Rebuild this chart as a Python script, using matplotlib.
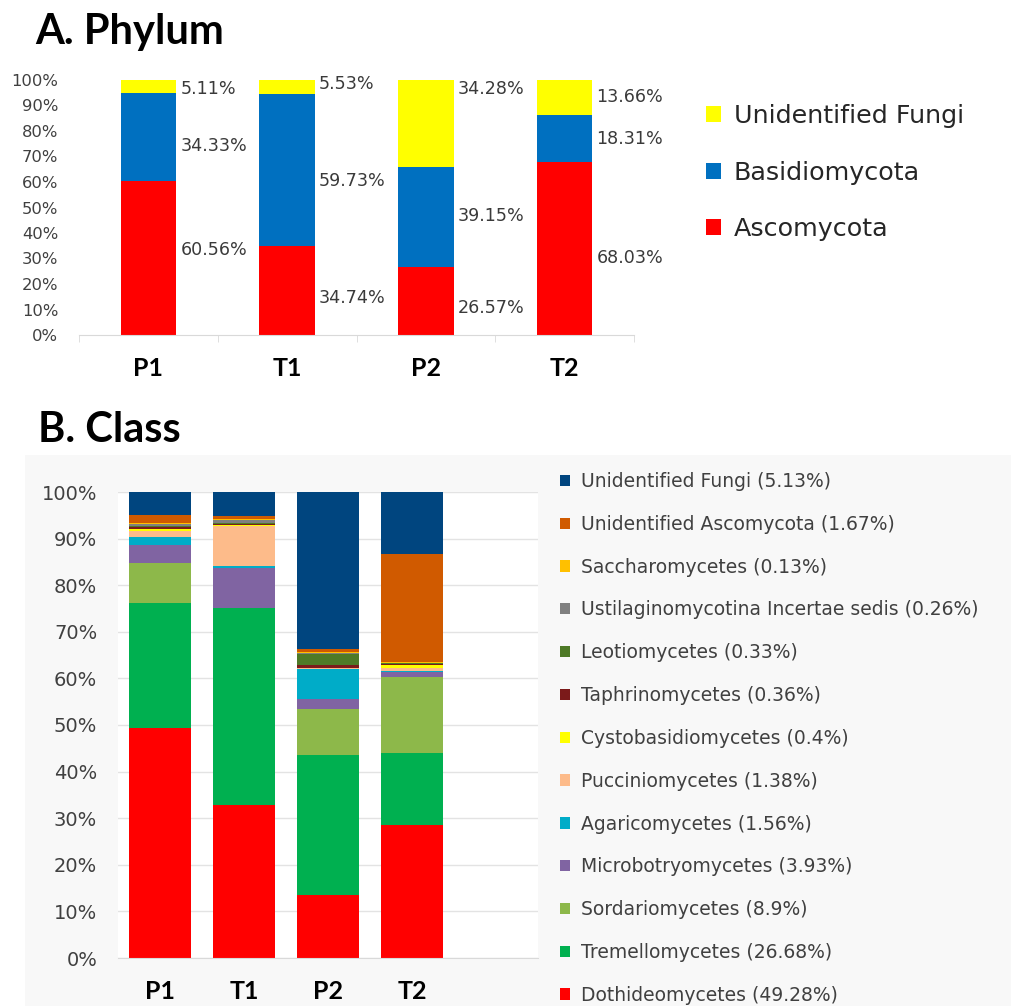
import matplotlib
matplotlib.use("Agg")
import matplotlib.pyplot as plt
import numpy as np
from matplotlib.patches import Rectangle, Patch

# ---------------- data ----------------
samples = ["P1", "T1", "P2", "T2"]

phylum_names = ["Ascomycota", "Basidiomycota", "Unidentified Fungi"]
asco = [60.56, 34.74, 26.57, 68.03]
basidio = [34.33, 59.73, 39.15, 18.31]
unid_phylum = [5.11, 5.53, 34.28, 13.66]
phylum_colors = ["#FF0000", "#0070C0", "#FFFF00"]

# label heights (in % of axis) for the phylum value labels
asco_label_y = [33.3, 14.5, 10.6, 30.2]
basidio_label_y = [74.1, 60.4, 46.7, 76.9]
unid_label_y = [96.5, 98.4, 96.5, 93.3]

class_names = [
    "Dothideomycetes (49.28%)",
    "Tremellomycetes (26.68%)",
    "Sordariomycetes (8.9%)",
    "Microbotryomycetes (3.93%)",
    "Agaricomycetes (1.56%)",
    "Pucciniomycetes (1.38%)",
    "Cystobasidiomycetes (0.4%)",
    "Taphrinomycetes (0.36%)",
    "Leotiomycetes (0.33%)",
    "Ustilaginomycotina Incertae sedis (0.26%)",
    "Saccharomycetes (0.13%)",
    "Unidentified Ascomycota (1.67%)",
    "Unidentified Fungi (5.13%)",
]
dothideo = [49.3, 32.8, 13.5, 28.5]
tremello = [26.8, 42.3, 30.0, 15.5]
sordario = [8.7, 0.1, 10.0, 16.4]
microbotryo = [3.9, 8.5, 2.1, 1.0]
agarico = [1.6, 0.4, 6.5, 0.1]
puccinio = [1.4, 8.5, 0.1, 0.8]
cystobasidio = [0.4, 0.3, 0.1, 0.6]
taphrino = [0.3, 0.2, 0.5, 0.1]
leotio = [0.4, 0.2, 2.5, 0.3]
ustilago = [0.3, 0.6, 0.2, 0.1]
saccharo = [0.2, 0.3, 0.1, 0.1]
unid_asco = [1.7, 0.6, 0.8, 23.3]
unid_fungi = [5.0, 5.2, 33.6, 13.2]
class_values = [dothideo, tremello, sordario, microbotryo, agarico, puccinio,
                cystobasidio, taphrino, leotio, ustilago, saccharo, unid_asco, unid_fungi]
class_colors = ["#FF0000", "#00B050", "#8DB84A", "#8064A2", "#00ACC8", "#FDBB8A",
                "#FFFF00", "#7B1A1A", "#4E7A27", "#808080", "#FFC000", "#D05A00", "#00457F"]

ticks_pct = list(range(0, 101, 10))

# ---------------- figure ----------------
W, H = 1012, 1006
fig = plt.figure(figsize=(W / 100, H / 100), dpi=100)
fig.patch.set_facecolor("white")

def px_axes(x0, y_top, x1, y_bot):
    return fig.add_axes([x0 / W, 1 - y_bot / H, (x1 - x0) / W, (y_bot - y_top) / H])

DV = ["DejaVu Sans"]
TITLE = ["Lato", "DejaVu Sans"]

# background of panel B
fig.patches.append(Rectangle((25 / W, 0), 1 - 25 / W, 1 - 455 / H,
                             transform=fig.transFigure, facecolor="#F8F8F8",
                             edgecolor="none", zorder=-10))

# ---------------- panel A ----------------
axA = px_axes(79, 80, 634, 335)
x = np.arange(len(samples))
bw = 0.4
bottoms = np.zeros(len(samples))
for vals, col, nm in zip([asco, basidio, unid_phylum], phylum_colors, phylum_names):
    axA.bar(x, vals, bw, bottom=bottoms, color=col, label=nm, zorder=2)
    bottoms += np.array(vals)

for vals, ys in zip([asco, basidio, unid_phylum], [asco_label_y, basidio_label_y, unid_label_y]):
    for i, (v, yy) in enumerate(zip(vals, ys)):
        axA.annotate(f"{v:.2f}%", xy=(x[i] + bw / 2, yy), xytext=(3, 0),
                     textcoords="offset points", ha="left", va="center",
                     fontsize=12.6, color="#3A3A3A", family=DV)

axA.set_xlim(-0.5, len(samples) - 0.5)
axA.set_ylim(0, 100)
axA.set_yticks(ticks_pct)
axA.set_yticklabels([f"{t}%" for t in ticks_pct], fontsize=11.8, color="#404040",
                    family=DV)
axA.tick_params(axis="y", length=0, pad=15)
axA.set_xticks(x)
axA.set_xticklabels(samples, fontsize=18, fontweight="bold", family=TITLE)
axA.tick_params(axis="x", length=0, pad=16)
axA.set_xticks(np.arange(-0.5, len(samples)), minor=True)
axA.tick_params(axis="x", which="minor", length=5, color="#D9D9D9", direction="out")
for s in ["top", "right", "left"]:
    axA.spines[s].set_visible(False)
axA.spines["bottom"].set_color("#D9D9D9")
axA.set_facecolor("none")

hA = [Patch(facecolor=c, edgecolor="none") for c in phylum_colors]
legA = fig.legend(hA[::-1], phylum_names[::-1], loc="upper left",
                  bbox_to_anchor=(706 / W, 1 - 104 / H), frameon=False,
                  prop={"family": DV, "size": 18.3}, handlelength=0.6,
                  handleheight=0.6, handletextpad=0.5, labelspacing=1.28,
                  borderpad=0, borderaxespad=0)
for t in legA.get_texts():
    t.set_color("#262626")

fig.text(35 / W, 1 - 32 / H, "A. Phylum", fontsize=30, fontweight="bold",
         family=TITLE, va="center", ha="left")

# ---------------- panel B ----------------
axB = px_axes(118, 492, 538, 958)
xb = np.arange(len(samples))
bwb = 0.74
bottoms = np.zeros(len(samples))
for vals, col, nm in zip(class_values, class_colors, class_names):
    axB.bar(xb, vals, bwb, bottom=bottoms, color=col, label=nm, zorder=2)
    bottoms += np.array(vals)

axB.set_xlim(-0.5, len(samples) + 0.5)
axB.set_ylim(0, 100)
axB.set_yticks(ticks_pct)
axB.set_yticklabels([f"{t}%" for t in ticks_pct], fontsize=14, color="#404040",
                    family=DV)
axB.tick_params(axis="y", length=0, pad=15)
axB.set_xticks(xb)
axB.set_xticklabels(samples, fontsize=18, fontweight="bold", family=TITLE)
axB.tick_params(axis="x", length=0, pad=16)
axB.grid(axis="y", color="#E3E3E3", linewidth=1, zorder=0)
axB.set_axisbelow(True)
for s in ["top", "right", "left"]:
    axB.spines[s].set_visible(False)
axB.spines["bottom"].set_color("#D9D9D9")
axB.set_facecolor("white")

hB = [Patch(facecolor=c, edgecolor="none") for c in class_colors]
legB = fig.legend(hB[::-1], class_names[::-1], loc="upper left",
                  bbox_to_anchor=(560 / W, 1 - 472 / H), frameon=False,
                  prop={"family": DV, "size": 13.5}, handlelength=0.55,
                  handleheight=0.55, handletextpad=0.55, labelspacing=1.27,
                  borderpad=0, borderaxespad=0)
for t in legB.get_texts():
    t.set_color("#404040")

fig.text(38 / W, 1 - 430 / H, "B. Class", fontsize=30, fontweight="bold",
         family=TITLE, va="center", ha="left")

fig.savefig("out.png", dpi=100)
